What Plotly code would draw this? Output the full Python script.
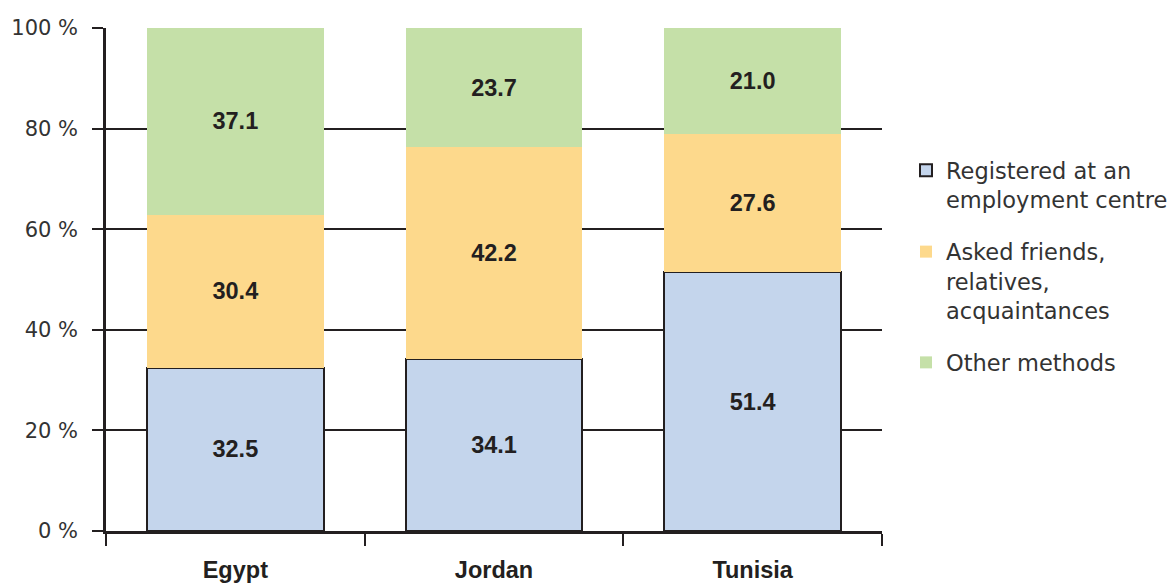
import plotly.graph_objects as go

countries = ["Egypt", "Jordan", "Tunisia"]
registered = [32.5, 34.1, 51.4]
friends = [30.4, 42.2, 27.6]
other = [37.1, 23.7, 21.0]
series_names = ["Registered at an<br>employment centre",
                "Asked friends,<br>relatives,<br>acquaintances",
                "Other methods"]
y_ticks = [0, 20, 40, 60, 80, 100]
y_tick_labels = ["0 %", "20 %", "40 %", "60 %", "80 %", "100 %"]

colors = ["#c4d5ec", "#fdd98c", "#c5e0a8"]
dark = "#231f20"
bold_family = "Liberation Sans, Arial, sans-serif"
reg_family = "DejaVu Sans, sans-serif"

fig = go.Figure()
for i, (vals, name) in enumerate(zip([registered, friends, other], series_names)):
    fig.add_trace(go.Bar(
        x=countries, y=vals, name=name,
        marker=dict(color=colors[i],
                    line=dict(color=dark, width=2 if i == 0 else 0)),
        texttemplate="%{y:.1f}", textposition="inside",
        insidetextanchor="middle",
        textfont=dict(family=bold_family, size=23.5, color=dark, weight="bold"),
        legendgroup=f"g{i}",
        hoverinfo="skip",
    ))

fig.update_layout(
    barmode="stack",
    bargap=0.316,
    width=1169, height=583,
    margin=dict(l=106, r=287, t=28, b=52, autoexpand=False),
    plot_bgcolor="white", paper_bgcolor="white",
    font=dict(family=reg_family, size=21, color="#333333"),
    showlegend=True,
    legend=dict(
        xref="container", yref="container",
        x=906 / 1169, xanchor="left", y=1 - 149 / 583, yanchor="top",
        traceorder="grouped", tracegroupgap=20,
        valign="top",
        font=dict(family=reg_family, size=22.5, color="#333333"),
        bgcolor="rgba(0,0,0,0)",
    ),
    uniformtext=dict(mode=False),
)

fig.update_xaxes(
    automargin=False,
    showline=True, linecolor=dark, linewidth=3,
    ticks="outside", tickson="boundaries", ticklen=12, tickwidth=2, tickcolor=dark,
    tickfont=dict(family=bold_family, size=23.5, color=dark, weight="bold"),
    ticklabelstandoff=16,
    showgrid=False,
)
fig.update_yaxes(
    automargin=False,
    range=[0, 100], tickvals=y_ticks, ticktext=y_tick_labels,
    showline=True, linecolor=dark, linewidth=2.5,
    ticks="outside", ticklen=11, tickwidth=2, tickcolor=dark,
    ticklabelstandoff=10,
    showgrid=True, gridcolor=dark, gridwidth=2,
    zeroline=False,
    tickfont=dict(family=reg_family, size=21, color="#333333"),
)

fig.write_html("out.html")
